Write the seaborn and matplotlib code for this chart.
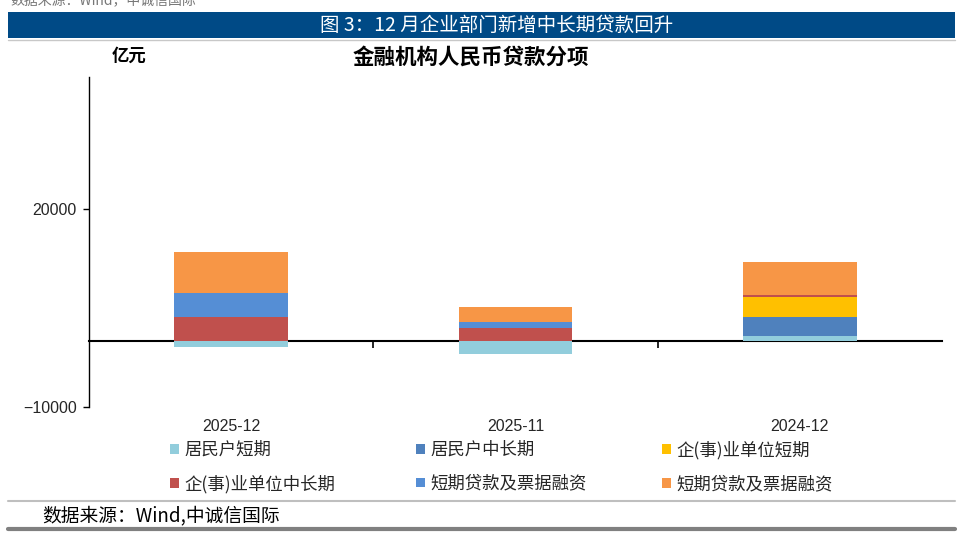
import numpy as np
import pandas as pd
import matplotlib
matplotlib.use("Agg")
import matplotlib.pyplot as plt
from matplotlib.patches import Patch, Rectangle
from matplotlib.lines import Line2D
import seaborn as sns

# ---------------- data ----------------
categories = ["2025-12", "2025-11", "2024-12"]
series_labels = ["居民户短期", "居民户中长期", "企(事)业单位短期",
                 "企(事)业单位中长期", "短期贷款及票据融资", "短期贷款及票据融资"]
hh_short = [-950, -2000, 700]
hh_long = [0, 0, 2900]
corp_short = [0, 0, 3000]
corp_long = [3600, 2000, 400]
bill_blue = [3700, 900, 0]
bill_orange = [6200, 2250, 4900]
series_values = [hh_short, hh_long, corp_short, corp_long, bill_blue, bill_orange]
series_colors = ["#92CDDC", "#4F81BD", "#FFC000", "#C0504D", "#558ED5", "#F79646"]
ytick_values = [-10000, 20000]

# ---------------- style ----------------
sns.set_style("white")
plt.rcParams["font.family"] = ["Noto Sans CJK SC", "DejaVu Sans"]
plt.rcParams["axes.unicode_minus"] = True

fig = plt.figure(figsize=(9.6, 5.35), dpi=100)
W, H = 960, 535
ax = fig.add_axes([89 / W, 1 - 406.7 / H, (942 - 89) / W, (406.7 - 77) / H])

vals = np.array(series_values, dtype=float)
pos_cum = np.cumsum(np.clip(vals, 0, None), axis=0)
neg_cum = np.cumsum(np.clip(vals, None, 0), axis=0)

# painter's stacking: draw cumulative totals from the top series downwards
for i in range(len(series_values) - 1, -1, -1):
    df_p = pd.DataFrame({"cat": categories, "v": pos_cum[i]})
    sns.barplot(data=df_p, x="cat", y="v", order=categories, color=series_colors[i],
                saturation=1, width=0.4, errorbar=None, linewidth=0, ax=ax)
for i in range(len(series_values) - 1, -1, -1):
    df_n = pd.DataFrame({"cat": categories, "v": neg_cum[i]})
    sns.barplot(data=df_n, x="cat", y="v", order=categories, color=series_colors[i],
                saturation=1, width=0.4, errorbar=None, linewidth=0, ax=ax)

ax.set_xlim(-0.5, 2.5)
ax.set_ylim(-10000, 40000)
ax.set_xlabel("")
ax.set_ylabel("")
for s in ["top", "right", "bottom"]:
    ax.spines[s].set_visible(False)
ax.spines["left"].set_color("black")
ax.spines["left"].set_linewidth(1.0)

ax.set_yticks(ytick_values)
ax.set_yticklabels([f"{v:d}".replace("-", "\u2212") for v in ytick_values],
                   fontfamily="Liberation Sans", fontsize=11.5)
ax.tick_params(axis="y", direction="out", length=4, width=1, color="black", pad=5, left=True)

ax.set_xticks(range(len(categories)))
ax.set_xticklabels(categories, fontfamily="Liberation Sans", fontsize=11.5)
ax.tick_params(axis="x", length=0, pad=9, bottom=False)

# zero axis line with category separators
secax = ax.secondary_xaxis(0.2)
secax.set_xticks([0.5, 1.5])
secax.set_xticklabels(["", ""])
secax.tick_params(axis="x", direction="out", length=5, width=1.2, color="black")
secax.spines["bottom"].set_linewidth(1.5)
secax.spines["bottom"].set_color("black")

# ---------------- header ----------------
fig.text(10 / W, 1 - 0 / H, "数据来源：Wind，中诚信国际", fontsize=10, color="#777777",
         ha="left", va="center")
fig.patches.append(Rectangle((8 / W, 1 - 38 / H), 947 / W, 26 / H, transform=fig.transFigure,
                             facecolor="#004A86", edgecolor="none"))
fig.lines.append(Line2D([8 / W, 955 / W], [1 - 39.5 / H, 1 - 39.5 / H], transform=fig.transFigure,
                        color="#C8C8C8", linewidth=1))
fig.text(497 / W, 1 - 25 / H, "图 3：12 月企业部门新增中长期贷款回升", fontsize=14, color="white",
         ha="center", va="center")
fig.text(471 / W, 1 - 57 / H, "金融机构人民币贷款分项", fontsize=15.5, fontweight="bold",
         color="black", ha="center", va="center")
fig.text(112 / W, 1 - 56 / H, "亿元", fontsize=12.5, fontweight="bold", color="black",
         ha="left", va="center")

# ---------------- legend ----------------
handles = [Patch(facecolor=c, edgecolor="none", label=l) for c, l in zip(series_colors, series_labels)]
col_x = [170, 416, 662]
for j in range(3):
    leg = fig.legend(handles=[handles[j], handles[j + 3]], loc="upper left",
                     bbox_to_anchor=(col_x[j] / W, 1 - 441 / H), frameon=False,
                     fontsize=12.5, handlelength=0.5, handleheight=0.5, handletextpad=0.35,
                     labelspacing=0.9, borderaxespad=0, borderpad=0)

# ---------------- footer ----------------
fig.lines.append(Line2D([8 / W, 955 / W], [1 - 501 / H, 1 - 501 / H], transform=fig.transFigure,
                        color="#BFBFBF", linewidth=1.5))
fig.text(42 / W, 1 - 516 / H, "数据来源：Wind,中诚信国际", fontsize=13.5, color="black",
         ha="left", va="center")
fig.lines.append(Line2D([8 / W, 955 / W], [1 - 529 / H, 1 - 529 / H], transform=fig.transFigure,
                        color="#808080", linewidth=3))

fig.savefig("out.png", dpi=100)
